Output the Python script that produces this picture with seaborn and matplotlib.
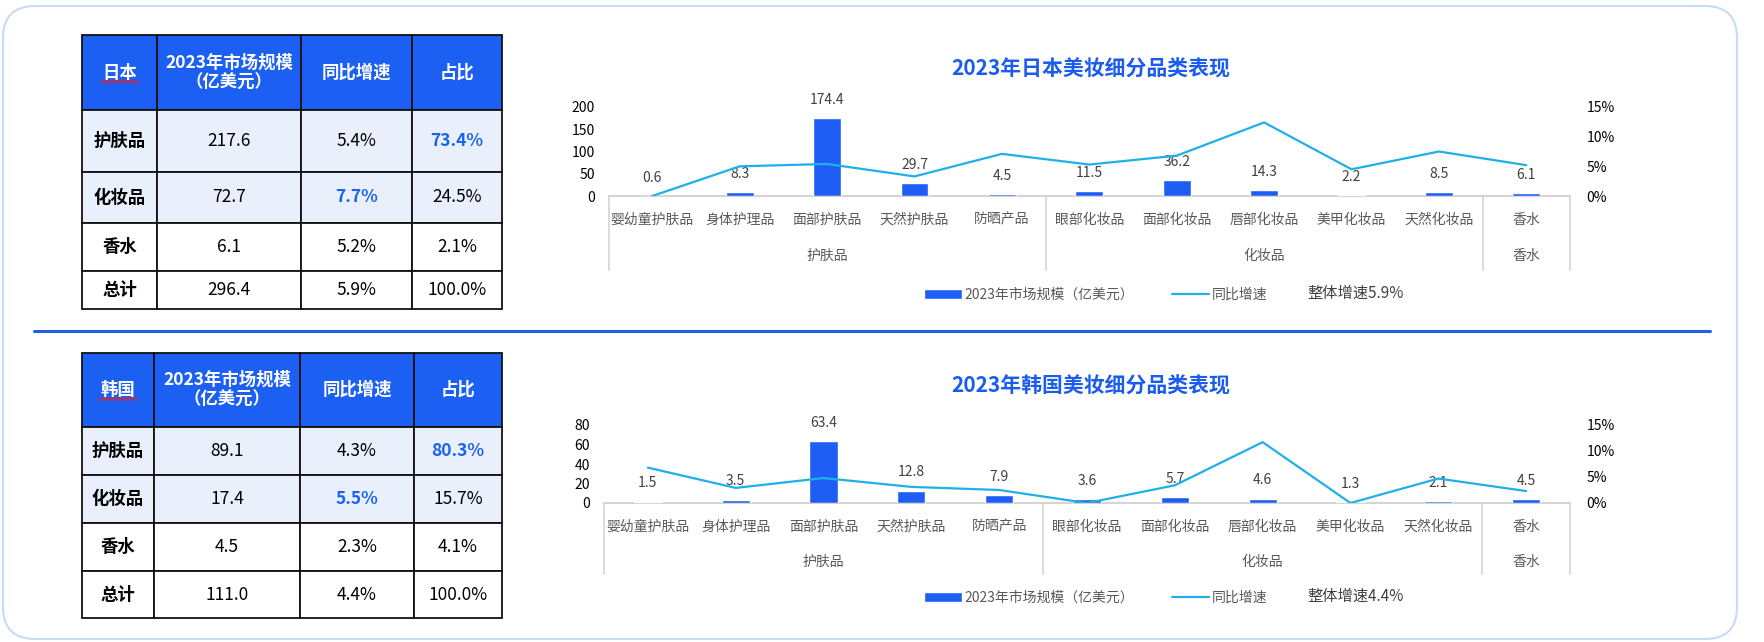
import numpy as np
import pandas as pd
import seaborn as sns
import matplotlib.pyplot as plt
import matplotlib.transforms as mtransforms
from matplotlib.patches import Rectangle, FancyBboxPatch, Patch
from matplotlib.lines import Line2D
from matplotlib.ticker import FuncFormatter

sns.set_theme(style='white')
plt.rcParams['font.family'] = ['Noto Sans CJK SC', 'DejaVu Sans']

# ---- data ----
sub_cats = ['婴幼童护肤品', '身体护理品', '面部护肤品', '天然护肤品', '防晒产品',
            '眼部化妆品', '面部化妆品', '唇部化妆品', '美甲化妆品', '天然化妆品', '香水']
groups = ['护肤品', '化妆品', '香水']
group_sizes = [5, 5, 1]

jp_size = [0.6, 8.3, 174.4, 29.7, 4.5, 11.5, 36.2, 14.3, 2.2, 8.5, 6.1]
jp_growth = [0.0, 5.0, 5.4, 3.3, 7.1, 5.3, 6.8, 12.4, 4.5, 7.5, 5.2]
kr_size = [1.5, 3.5, 63.4, 12.8, 7.9, 3.6, 5.7, 4.6, 1.3, 2.1, 4.5]
kr_growth = [6.8, 2.9, 4.8, 3.1, 2.5, 0.0, 3.4, 11.7, 0.0, 4.7, 2.3]

table_rows = ['护肤品', '化妆品', '香水', '总计']
jp_tab_size = [217.6, 72.7, 6.1, 296.4]
jp_tab_growth = [5.4, 7.7, 5.2, 5.9]
jp_tab_share = [73.4, 24.5, 2.1, 100.0]
kr_tab_size = [89.1, 17.4, 4.5, 111.0]
kr_tab_growth = [4.3, 5.5, 2.3, 4.4]
kr_tab_share = [80.3, 15.7, 4.1, 100.0]

BAR = '#1f5ef5'
LINE = '#1fb0ea'
HEAD = '#1b5ff3'
LIGHT = '#e9f0fc'
HILITE = '#1a62f0'
W, H = 1764, 642

fig = plt.figure(figsize=(W / 100, H / 100), dpi=100)
bg = fig.add_axes([0, 0, 1, 1])
bg.set_xlim(0, W)
bg.set_ylim(H, 0)
bg.axis('off')

# panel + divider
bg.add_patch(FancyBboxPatch((3, 6), 1734, 633, boxstyle='round,pad=0,rounding_size=32',
                            facecolor='white', edgecolor='#c8dbf6', lw=1.5))
bg.plot([34, 1710], [331, 331], color='#1f60e6', lw=2.2)


def fig_xy(x, y):
    return x / W, 1 - y / H


def draw_table(xs, ys, country, sizes, growth, share):
    header = [country, '2023年市场规模\n（亿美元）', '同比增速', '占比']
    g_hi = int(np.argmax(growth[:3]))
    s_hi = int(np.argmax(share[:3]))
    for r in range(5):
        for c in range(4):
            x0, x1 = xs[c], xs[c + 1]
            y0, y1 = ys[r], ys[r + 1]
            face = HEAD if r == 0 else (LIGHT if r in (1, 2) else 'white')
            bg.add_patch(Rectangle((x0, y0), x1 - x0, y1 - y0, facecolor=face,
                                   edgecolor='#111111', lw=1.3))
            cx, cy = (x0 + x1) / 2, (y0 + y1) / 2
            if r == 0:
                bg.text(cx, cy, header[c], ha='center', va='center', color='white',
                        fontsize=12.5, fontweight='bold', linespacing=1.15)
                continue
            i = r - 1
            color, weight = 'black', 'normal'
            if c == 0:
                txt, weight = table_rows[i], 'bold'
            elif c == 1:
                txt = f'{sizes[i]:.1f}'
            elif c == 2:
                txt = f'{growth[i]:.1f}%'
                if i == g_hi:
                    color, weight = HILITE, 'bold'
            else:
                txt = f'{share[i]:.1f}%'
                if i == s_hi:
                    color, weight = HILITE, 'bold'
            bg.text(cx, cy, txt, ha='center', va='center', color=color,
                    fontsize=12.5, fontweight=weight)
    # spell-check squiggle under the country name
    cx = (xs[0] + xs[1]) / 2
    sx = np.linspace(cx - 19, cx + 19, 15)
    sy = (ys[0] + ys[1]) / 2 + 9 + 1.5 * (-1) ** np.arange(15)
    bg.plot(sx, sy, color='#e0202a', lw=1)


draw_table([82, 157, 301, 412, 502], [35, 110, 172, 223, 271, 309],
           '日本', jp_tab_size, jp_tab_growth, jp_tab_share)
draw_table([82, 154, 300, 414, 502], [353, 427, 475, 523, 571, 618],
           '韩国', kr_tab_size, kr_tab_growth, kr_tab_share)


def draw_chart(left, right, top, base, ymax, ystep, sizes, growth, title, title_y,
               cat_y, grp_y, sep_bottom, legend_y, total):
    df = pd.DataFrame({'cat': sub_cats, 'size': sizes, 'growth': growth})
    x0, y0 = fig_xy(left, base)
    ax = fig.add_axes([x0, y0, (right - left) / W, (base - top) / H])
    ax.set_facecolor('none')
    sns.barplot(data=df, x='cat', y='size', color=BAR, saturation=1, width=0.32, ax=ax)
    ax.bar_label(ax.containers[0], fmt='%.1f', padding=8, fontsize=10, color='#404040')
    ax.set_xlim(-0.5, len(sub_cats) - 0.5)
    ax.set_ylim(0, ymax)
    ax.set_yticks(np.arange(0, ymax + 1, ystep))
    ax.set_xlabel('')
    ax.set_ylabel('')
    ax.tick_params(axis='x', length=0, pad=12, labelsize=10, labelcolor='#595959')
    ax.tick_params(axis='y', length=0, pad=10, labelsize=10, labelcolor='black')
    for s in ax.spines.values():
        s.set_visible(False)

    ax2 = ax.twinx()
    sns.lineplot(data=df, x='cat', y='growth', color=LINE, lw=1.6, sort=False, ax=ax2)
    ax2.set_ylim(0, 15)
    ax2.set_yticks([0, 5, 10, 15])
    ax2.yaxis.set_major_formatter(FuncFormatter(lambda v, p: f'{v:.0f}%'))
    ax2.set_ylabel('')
    ax2.tick_params(axis='y', length=0, pad=12, labelsize=10, labelcolor='black')
    for s in ax2.spines.values():
        s.set_visible(False)

    # multi-level category axis
    tr = mtransforms.blended_transform_factory(ax.transData, bg.transData)
    bg.plot([-0.5, len(sub_cats) - 0.5], [base, base], color='#d4d4d4', lw=1.5, transform=tr)
    edges = np.concatenate([[0], np.cumsum(group_sizes)]) - 0.5
    for e in edges:
        bg.plot([e, e], [base, sep_bottom], color='#d4d4d4', lw=1.2, transform=tr)
    for g, a, b in zip(groups, edges[:-1], edges[1:]):
        bg.text((a + b) / 2, grp_y, g, ha='center', va='center', fontsize=10,
                color='#595959', transform=tr)

    tx, ty = fig_xy(1091, title_y)
    fig.text(tx, ty, title, ha='center', va='center', fontsize=15, fontweight='bold',
             color='#1a5cf0')
    handles = [Patch(facecolor=BAR), Line2D([], [], color=LINE, lw=1.6)]
    lx, ly = fig_xy(1096, legend_y)
    fig.legend(handles, ['2023年市场规模（亿美元）', '同比增速'], loc='center',
               bbox_to_anchor=(lx, ly), ncol=2, frameon=False, fontsize=10,
               handlelength=2.7, handletextpad=0.2, columnspacing=2.7,
               labelcolor='#595959')
    gx, gy = fig_xy(1307, legend_y - 2)
    fig.text(gx, gy, f'整体增速{total:.1f}%', ha='left', va='center', fontsize=11,
             color='#404040')


draw_chart(608.6, 1570, 107, 196, 200, 50, jp_size, jp_growth,
           '2023年日本美妆细分品类表现', 69, 220, 256, 270, 295, jp_tab_growth[3])
draw_chart(604, 1570, 425, 503, 80, 20, kr_size, kr_growth,
           '2023年韩国美妆细分品类表现', 386, 526, 562, 574, 598, kr_tab_growth[3])

fig.savefig('out.png', dpi=100)
